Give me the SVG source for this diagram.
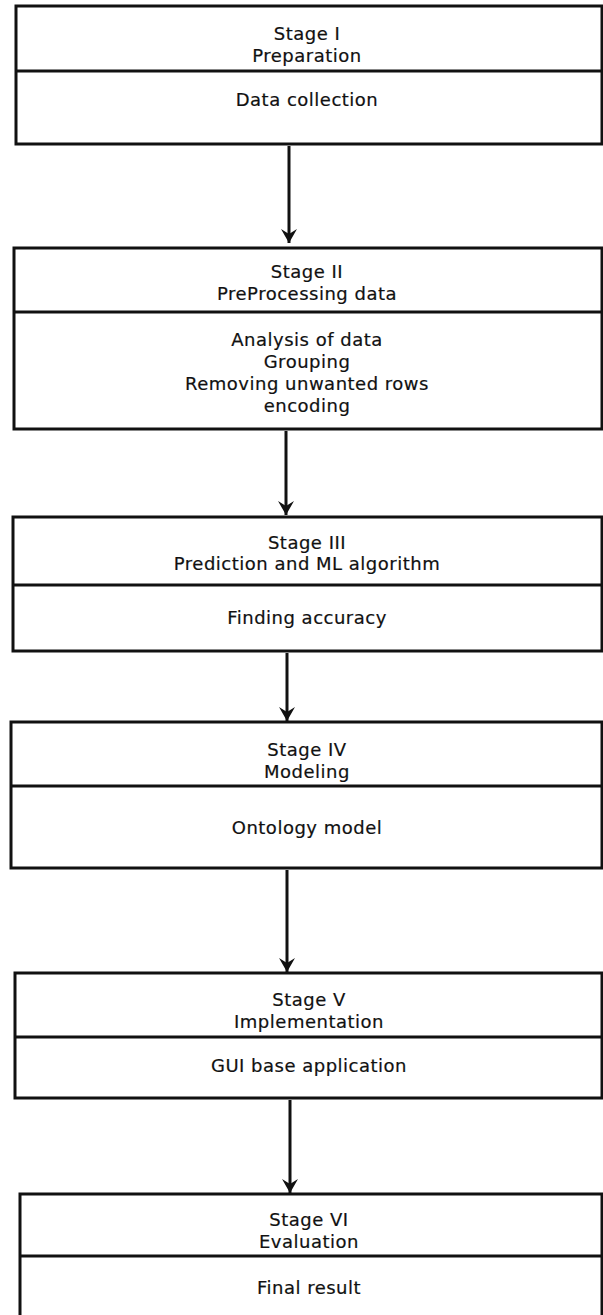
<svg xmlns="http://www.w3.org/2000/svg" width="603" height="1315" viewBox="0 0 603 1315">
<style>
.box{fill:#fff;stroke:#111;stroke-width:3}
.div{stroke:#111;stroke-width:3}
.t{font-family:"DejaVu Sans",Verdana,sans-serif;font-size:18px;letter-spacing:0.5px;fill:#111;text-anchor:middle;stroke:#111;stroke-width:0.2}
.c{stroke:#111;stroke-width:3;fill:none}
</style>
<defs>
<marker id="ah" viewBox="0 0 14 16" refX="14" refY="8" markerWidth="14" markerHeight="16" markerUnits="userSpaceOnUse" orient="auto">
<path d="M0,0 L14,8 L0,16 L5,8 Z" fill="#111"/>
</marker>
</defs>
<rect width="603" height="1315" fill="#fff"/>
<g id="connectors">
<line class="c" x1="289" y1="146" x2="289" y2="243" marker-end="url(#ah)"/>
<line class="c" x1="286" y1="431" x2="286" y2="515" marker-end="url(#ah)"/>
<line class="c" x1="287" y1="653" x2="287" y2="721" marker-end="url(#ah)"/>
<line class="c" x1="287" y1="870" x2="287" y2="972" marker-end="url(#ah)"/>
<line class="c" x1="290" y1="1100" x2="290" y2="1193" marker-end="url(#ah)"/>
</g>
<g id="stage1">
<rect class="box" x="16" y="6" width="586" height="138"/>
<line class="div" x1="16" y1="71" x2="602" y2="71"/>
<text class="t" x="307" y="40">Stage I</text>
<text class="t" x="307" y="62">Preparation</text>
<text class="t" x="307" y="106">Data collection</text>
</g>
<g id="stage2">
<rect class="box" x="14" y="248" width="588" height="181"/>
<line class="div" x1="14" y1="312" x2="602" y2="312"/>
<text class="t" x="307" y="278">Stage II</text>
<text class="t" x="307" y="300">PreProcessing data</text>
<text class="t" x="307" y="346">Analysis of data</text>
<text class="t" x="307" y="368">Grouping</text>
<text class="t" x="307" y="390">Removing unwanted rows</text>
<text class="t" x="307" y="412">encoding</text>
</g>
<g id="stage3">
<rect class="box" x="13" y="517" width="589" height="134"/>
<line class="div" x1="13" y1="585" x2="602" y2="585"/>
<text class="t" x="307" y="549">Stage III</text>
<text class="t" x="307" y="570">Prediction and ML algorithm</text>
<text class="t" x="307" y="624">Finding accuracy</text>
</g>
<g id="stage4">
<rect class="box" x="11" y="722" width="591" height="146"/>
<line class="div" x1="11" y1="786" x2="602" y2="786"/>
<text class="t" x="307" y="756">Stage IV</text>
<text class="t" x="307" y="778">Modeling</text>
<text class="t" x="307" y="834">Ontology model</text>
</g>
<g id="stage5">
<rect class="box" x="15" y="973" width="587" height="125"/>
<line class="div" x1="15" y1="1037" x2="602" y2="1037"/>
<text class="t" x="309" y="1006">Stage V</text>
<text class="t" x="309" y="1028">Implementation</text>
<text class="t" x="309" y="1072">GUI base application</text>
</g>
<g id="stage6">
<rect class="box" x="20" y="1194" width="582" height="140"/>
<line class="div" x1="20" y1="1256" x2="602" y2="1256"/>
<text class="t" x="309" y="1226">Stage VI</text>
<text class="t" x="309" y="1248">Evaluation</text>
<text class="t" x="309" y="1294">Final result</text>
</g>
</svg>
